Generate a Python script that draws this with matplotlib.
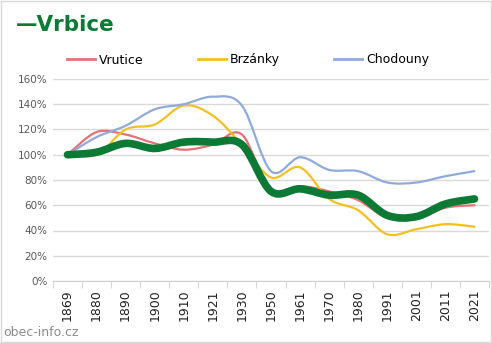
import matplotlib
matplotlib.use("Agg")
import matplotlib.pyplot as plt
import numpy as np
from matplotlib.path import Path
from matplotlib.patches import PathPatch
from matplotlib.lines import Line2D

# data
years = ["1869", "1880", "1890", "1900", "1910", "1921", "1930", "1950",
         "1961", "1970", "1980", "1991", "2001", "2011", "2021"]
vrbice = [100, 102, 109, 105, 110, 110, 108, 71, 73, 68, 68, 52, 51, 61, 65]
vrutice = [100, 118, 116, 109, 104, 108, 116, 70, 75, 71, 64, 50, 49, 58, 60]
brzanky = [100, 100, 120, 124, 139, 131, 108, 82, 90, 65, 56, 37, 41, 45, 43]
chodouny = [100, 114, 123, 136, 140, 146, 139, 87, 98, 88, 87, 78, 78, 83, 87]

GREEN = "#0B7A35"
RED = "#E96F73"
YELLOW = "#F4C01E"
BLUE = "#8FAADC"


def smooth_path(xs, ys):
    # Excel-like smoothed line: cubic bezier with catmull-rom tangents
    pts = np.column_stack([xs, ys]).astype(float)
    n = len(pts)
    verts = [pts[0]]
    codes = [Path.MOVETO]
    for i in range(n - 1):
        p0 = pts[i - 1] if i > 0 else pts[i]
        p1 = pts[i]
        p2 = pts[i + 1]
        p3 = pts[i + 2] if i + 2 < n else pts[i + 1]
        c1 = p1 + (p2 - p0) / 6.0
        c2 = p2 - (p3 - p1) / 6.0
        verts += [c1, c2, p2]
        codes += [Path.CURVE4] * 3
    return Path(verts, codes)


fig = plt.figure(figsize=(4.92, 3.43), dpi=100)
ax = fig.add_axes([53 / 492, 1 - 281 / 343, 436 / 492, 202 / 343])

x = np.arange(len(years))
series = [(vrutice, RED, 1.6), (brzanky, YELLOW, 1.6), (chodouny, BLUE, 1.6),
          (vrbice, GREEN, 5.5)]
for vals, col, lw in series:
    p = smooth_path(x, vals)
    ax.add_patch(PathPatch(p, facecolor="none", edgecolor=col, lw=lw,
                           capstyle="round", joinstyle="round"))

ax.set_xlim(-0.5, len(years) - 0.5)
ax.set_ylim(0, 160)
ax.set_yticks(range(0, 161, 20))
ax.set_yticklabels([f"{v}%" for v in range(0, 161, 20)])
ax.set_xticks(x)
ax.set_xticklabels(years, rotation=90)
ax.set_xticks(np.arange(-0.5, len(years)), minor=True)
ax.tick_params(axis="x", which="major", length=0, pad=6, labelsize=9,
               labelcolor="#222222")
ax.tick_params(axis="x", which="minor", length=5, color="#D0D0D0")
ax.tick_params(axis="y", length=0, pad=4, labelsize=7.5, labelcolor="#595959")
ax.grid(axis="y", color="#D9D9D9", lw=1)
ax.set_axisbelow(True)
for s in ["top", "right", "left"]:
    ax.spines[s].set_visible(False)
ax.spines["bottom"].set_color("#D0D0D0")

# title
fig.text(16 / 492, 1 - 25 / 343, "\u2014Vrbice", color=GREEN, fontsize=15.5,
         fontweight="bold", va="center", ha="left")

# legend
handles = [Line2D([], [], color=RED, lw=2), Line2D([], [], color=YELLOW, lw=2),
           Line2D([], [], color=BLUE, lw=2)]
fig.legend(handles, ["Vrutice", "Brzánky", "Chodouny"], loc="center left",
           bbox_to_anchor=(56 / 492, 1 - 60 / 343), ncol=3, frameon=False,
           fontsize=9, handlelength=2.2, handletextpad=0.35,
           columnspacing=4.35)

fig.text(3 / 492, 1 - 333 / 343, "obec-info.cz", color="#8C8C8C", fontsize=9,
         va="center", ha="left")

# outer border
fig.patches.append(plt.Rectangle((0.002, 0.003), 0.996, 0.994,
                                 transform=fig.transFigure, fill=False,
                                 edgecolor="#D9D9D9", lw=1))

fig.savefig("out.png", dpi=100)
